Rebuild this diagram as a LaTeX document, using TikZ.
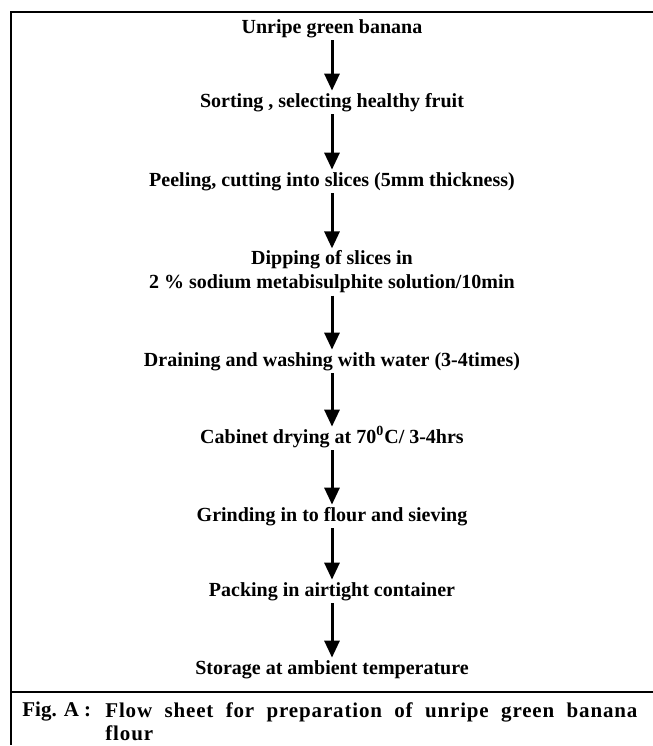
\documentclass[tikz,border=0pt]{standalone}
\usepackage{fontspec}
\setmainfont{Liberation Serif}
\newfontfamily\capfont[LetterSpace=4]{Liberation Serif}
\usetikzlibrary{arrows.meta}
\begin{document}
\begin{tikzpicture}[x=0.5pt,y=-0.5pt,
		stage/.style={font=\bfseries,inner sep=1pt,text height=7pt,text depth=2.5pt},
		twostage/.style={font=\bfseries,inner sep=1pt,align=center},
		flow/.style={line width=1.5pt,-{Triangle[width=7.5pt,length=8.5pt]}}]
				\useasboundingbox (0,0) rectangle (653,746);
				\draw[line width=1pt] (653,12) -- (11,12) -- (11,745);
				\draw[line width=1pt] (11,692) -- (653,692);
				\node[stage,anchor=base] (banana) at (332,33) {Unripe green banana};
				\node[stage,anchor=base] (sorting) at (332,107) {Sorting , selecting healthy fruit};
				\node[stage,anchor=base] (peeling) at (332,186) {Peeling, cutting into slices (5mm thickness)};
				\node[twostage] (dipping) at (332,272) {Dipping of slices in\\2 \% sodium metabisulphite solution/10min};
				\node[stage,anchor=base] (draining) at (332,366) {Draining and washing with water (3-4times)};
				\node[stage,anchor=base] (drying) at (332,443) {Cabinet drying at 70\textsuperscript{0}C/ 3-4hrs};
				\node[stage,anchor=base] (grinding) at (332,521) {Grinding in to flour and sieving};
				\node[stage,anchor=base] (packing) at (332,596) {Packing in airtight container};
				\node[stage,anchor=base] (storage) at (332,674) {Storage at ambient temperature};
				\draw[flow] (banana) -- (sorting);
				\draw[flow] (sorting) -- (peeling);
				\draw[flow] (peeling) -- (dipping);
				\draw[flow] (dipping) -- (draining);
				\draw[flow] (draining) -- (drying);
				\draw[flow] (drying) -- (grinding);
				\draw[flow] (grinding) -- (packing);
				\draw[flow] (packing) -- (storage);
				\node[font=\fontsize{10.5}{11.5}\selectfont\bfseries,inner sep=0pt,anchor=base west] (figlabel) at (22,716) {Fig. A :};
				\node[font=\fontsize{10.5}{11.5}\selectfont\capfont\bfseries,inner sep=0pt,anchor=north west,align=left] (figcaption) at (105,702)
					{\makebox[266pt][s]{Flow sheet for preparation of unripe green banana}\\flour};
			\end{tikzpicture}
\end{document}
